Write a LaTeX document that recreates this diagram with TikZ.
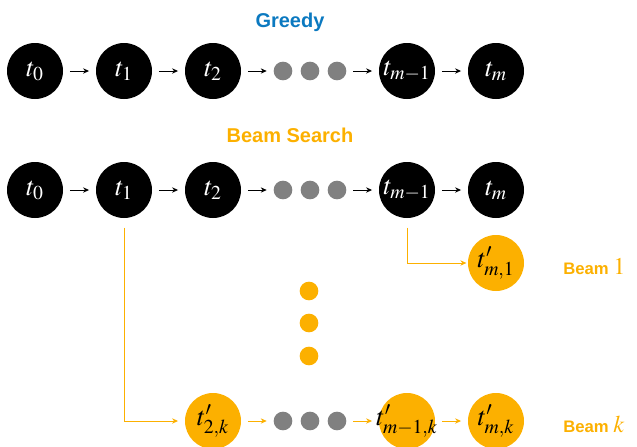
\documentclass[tikz,border=0pt]{standalone}
\usepackage{mathptmx}
\usepackage{fontspec}
\setsansfont{Liberation Sans}
\usetikzlibrary{arrows.meta}
\definecolor{greedyblue}{RGB}{11,121,192}
\definecolor{beamorange}{RGB}{252,176,0}
\definecolor{dotgray}{RGB}{128,128,128}
\newcommand{\stretto}[1]{\makebox[0pt]{$#1$}}
\tikzstyle{tok} = [circle, fill=black, text=white, minimum size=42pt,
    inner sep=0pt, font=\fontsize{20}{23}\selectfont]
\tikzstyle{beamtok} = [tok, fill=beamorange, text=black]
\tikzstyle{punto} = [circle, fill=dotgray, minimum size=14pt, inner sep=0pt]
\tikzstyle{beampunto} = [punto, fill=beamorange]
\tikzstyle{freccia} = [-{Stealth[length=4.5pt,width=4pt]}, line width=0.75pt,
    shorten <=5pt, shorten >=5pt]
\tikzstyle{titolo} = [font=\sffamily\bfseries\fontsize{15}{18}\selectfont]
\tikzstyle{etichetta} = [font=\sffamily\bfseries\fontsize{12.5}{15}\selectfont,
    text=beamorange, anchor=base west, inner sep=0pt]

\begin{document}
\begin{tikzpicture}[x=0.75pt,y=-0.75pt]
  \useasboundingbox (0,0) rectangle (637,447);
  % greedy
  \node [titolo, text=greedyblue, anchor=base, inner sep=0pt] (greedy) at (290,27) {Greedy};
  \node [tok] (g0) at (35,71) {$t_0$};
  \node [tok] (g1) at (124,71) {$t_1$};
  \node [tok] (g2) at (213,71) {$t_2$};
  \node [punto] (gd1) at (283,71) {};
  \node [punto] (gd2) at (310,71) {};
  \node [punto] (gd3) at (337,71) {};
  \node [tok] (gm1) at (407,71) {\stretto{t_{m-1}}};
  \node [tok] (gm) at (496,71) {$t_m$};
  \draw [freccia] (g0) -- (g1);
  \draw [freccia] (g1) -- (g2);
  \draw [freccia] (g2) -- (gd1);
  \draw [freccia] (gd3) -- (gm1);
  \draw [freccia] (gm1) -- (gm);

  % beam search
  \node [titolo, text=beamorange, anchor=base, inner sep=0pt] (beam) at (290,142) {Beam Search};
  \node [tok] (b0) at (35,190) {$t_0$};
  \node [tok] (b1) at (124,190) {$t_1$};
  \node [tok] (b2) at (213,190) {$t_2$};
  \node [punto] (bd1) at (283,190) {};
  \node [punto] (bd2) at (310,190) {};
  \node [punto] (bd3) at (337,190) {};
  \node [tok] (bm1) at (407,190) {\stretto{t_{m-1}}};
  \node [tok] (bm) at (496,190) {$t_m$};
  \draw [freccia] (b0) -- (b1);
  \draw [freccia] (b1) -- (b2);
  \draw [freccia] (b2) -- (bd1);
  \draw [freccia] (bd3) -- (bm1);
  \draw [freccia] (bm1) -- (bm);

  % beam 1
  \node [beamtok] (uno) at (496,263) {$t'_{m,1}$};
  \node [etichetta] (luno) at (563,274) {Beam {\fontsize{18}{20}\selectfont$1$}};
  \draw [freccia, beamorange, shorten <=7pt, shorten >=1pt] (bm1.south) |- (uno.west);

  % vertical dots
  \node [beampunto] (v1) at (309,291) {};
  \node [beampunto] (v2) at (309,323) {};
  \node [beampunto] (v3) at (309,356) {};

  % beam k
  \node [beamtok] (k2) at (213,421) {$t'_{2,k}$};
  \node [punto] (kd1) at (283,421) {};
  \node [punto] (kd2) at (310,421) {};
  \node [punto] (kd3) at (337,421) {};
  \node [beamtok] (km1) at (407,421) {\stretto{t'_{m-1,k}}};
  \node [beamtok] (km) at (496,421) {$t'_{m,k}$};
  \node [etichetta] (lk) at (563,432) {Beam {\fontsize{18}{20}\selectfont$k$}};
  \draw [freccia, beamorange, shorten <=7pt] (b1.south) |- (k2.west);
  \draw [freccia, beamorange] (k2) -- (kd1);
  \draw [freccia, beamorange] (kd3) -- (km1);
  \draw [freccia, beamorange] (km1) -- (km);
\end{tikzpicture}
\end{document}
